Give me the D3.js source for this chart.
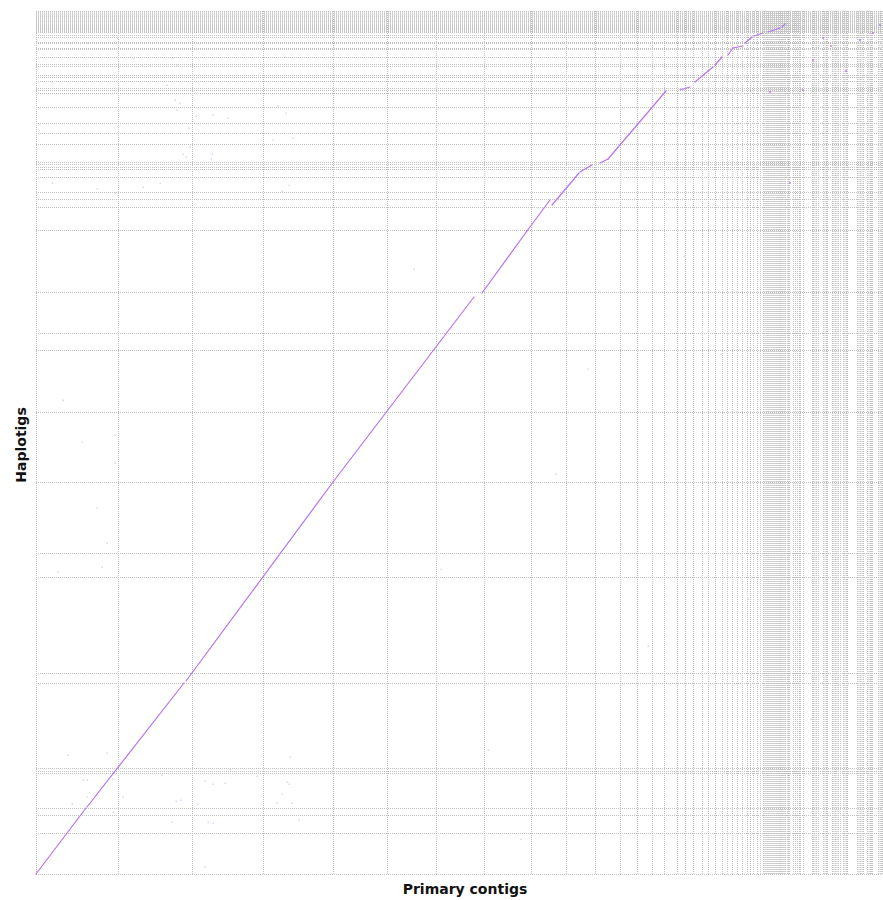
<!DOCTYPE html>
<html>
<head>
<meta charset="utf-8">
<script src="https://cdn.jsdelivr.net/npm/d3@7"></script>
<style>
  html, body { margin: 0; padding: 0; background: #fff; }
  svg { display: block; }
  .grid line { stroke: #c2c2c2; stroke-width: 1; stroke-dasharray: 1,1; }
  .grid .domain { display: none; }
  .title { font-family: "DejaVu Sans", sans-serif; font-weight: bold; font-size: 14px; fill: #111; }
</style>
</head>
<body>
<svg id="chart" width="883" height="900"></svg>
<script>
// Primary contig lengths (kb), in assembly order along the x axis
const primaryLengths = [
  8200, 7400, 7100, 7000, 5400, 4900, 4800, 4700, 3500, 2900, 2500, 1700, 1500, 1200, 1300,
  800, 800, 900, 600, 700, 700, 500, 500, 500, 500, 500, 300, 300, 400, 300, 300,
  150, 120, 100, 100, 80, 100, 120, 90, 100, 100, 80, 110, 90, 100, 100, 70, 100, 90, 120, 100, 110, 70,
  200, 100, 100, 400, 200, 200, 200, 100, 300, 900, 100, 150, 150, 200, 500, 150, 150, 100,
  500, 150, 150, 150, 150, 200, 300, 150, 150, 100, 1000, 150, 150, 150, 150, 400, 150, 150,
  100, 100, 600, 150, 150, 100
];

// Haplotig lengths (kb), in assembly order up the y axis
const haplotigLengths = [
  4100, 1800, 700, 3500, 200, 300, 8500, 1000, 9600, 2400, 7100, 7000, 6200, 1700, 4100,
  6200, 2300, 800, 700, 1500, 800, 200, 300, 200, 1800, 1100, 1000, 1600, 1400, 300,
  200, 700, 400, 200, 900, 200, 700, 800, 100, 500, 100, 500, 200, 300,
  100, 80, 120, 100, 90, 100, 110, 70, 100, 100, 130, 80, 100, 90, 100, 120, 80, 100, 110, 90, 130
];

// Alignment blocks: [primary start, haplotig start, primary end, haplotig end] (kb, cumulative)
const alignments = [
  [0, 0, 5000, 6600],
  [5100, 6700, 14800, 19100],
  [15000, 19300, 29700, 39200],
  [29700, 39200, 43800, 57700],
  [44600, 58100, 49100, 64300],
  [49100, 64300, 51400, 67400],
  [51600, 66900, 54300, 70100],
  [54400, 70200, 55600, 70900],
  [56400, 71100, 57200, 71500],
  [57200, 71500, 63000, 78300],
  [64400, 78400, 65400, 78700],
  [65900, 79200, 67700, 80700],
  [67900, 80900, 68600, 81700],
  [69200, 81900, 69700, 82600],
  [69700, 82600, 70700, 82800],
  [70900, 83100, 71600, 83700],
  [71800, 83800, 72700, 84100],
  [73200, 84200, 74400, 84600],
  [74600, 84700, 74900, 85000]
];

// Short off-diagonal hits among the small contigs: [primary, haplotig] (kb)
const minorHits = [
  [83700, 84100], [82400, 83400], [78700, 83600], [73400, 78200], [76700, 78400],
  [77700, 81400], [75400, 69100], [84400, 84900], [79500, 82800], [81000, 80300]
];

// Faint scattered matches: [primary, haplotig] (kb)
const noiseHits = [
  [3600, 83100], [5100, 83100], [8100, 83600], [9800, 81600], [10600, 80900], [11400, 80900],
  [13700, 81600], [14100, 80900], [14600, 79900], [13100, 78900], [13900, 77400], [14400, 77100],
  [14100, 76400], [16000, 75800], [17700, 75900], [19200, 75600], [15300, 74600], [15400, 72700],
  [14700, 72000], [15000, 71700], [17600, 72000], [17500, 71500], [12400, 69100], [1600, 69100],
  [6100, 68500], [10700, 68700], [7900, 68100], [24200, 76800], [25000, 76100], [25700, 73600],
  [24900, 81700], [23700, 73400], [25300, 68900], [24600, 68300], [1600, 79200],
  [3200, 11900], [7100, 12100], [4700, 9400], [5100, 9400], [7700, 9500], [5100, 7700],
  [8700, 7700], [3600, 7000], [7700, 6200], [12600, 9900], [14000, 7300], [14500, 7400],
  [13600, 5200], [16200, 7000], [16900, 9300], [17700, 9000], [18900, 9100], [19400, 10500],
  [22100, 9800], [17200, 5200], [17700, 5100], [16900, 700], [24100, 7100], [24600, 8000],
  [25100, 9200], [25300, 9000], [25400, 11700], [25600, 7100], [26300, 5400],
  [2700, 47400], [4600, 43200], [7900, 43900], [7900, 41100], [6100, 36600], [7100, 33100],
  [6600, 30700], [2200, 30200],
  [40500, 30500], [52000, 40000], [58500, 33000], [61200, 22800], [45200, 12400], [68500, 52000],
  [37800, 60500], [55200, 50500], [71200, 27500], [64800, 61800], [48500, 3500], [77500, 15500]
];

const svg = d3.select("#chart");
const plotLeft = 36, plotRight = 882, plotTop = 11, plotBottom = 874;

const x = d3.scaleLinear().domain([0, d3.sum(primaryLengths)]).range([plotLeft, plotRight]);
const y = d3.scaleLinear().domain([0, d3.sum(haplotigLengths)]).range([plotBottom, plotTop]);

// contig boundaries (cumulative)
const cumulative = arr => { let s = 0; return [0].concat(arr.map(v => (s += v))); };
const xBounds = cumulative(primaryLengths);
const yBounds = cumulative(haplotigLengths);

// Boundary grid drawn as axis ticks spanning the plot
svg.append("g")
  .attr("class", "grid")
  .attr("transform", `translate(0,${plotBottom})`)
  .call(d3.axisBottom(x).tickValues(xBounds).tickSize(-(plotBottom - plotTop)).tickFormat(""));

svg.append("g")
  .attr("class", "grid")
  .attr("transform", `translate(${plotLeft},0)`)
  .call(d3.axisLeft(y).tickValues(yBounds).tickSize(-(plotRight - plotLeft)).tickFormat(""));

// faint scattered matches
svg.append("g")
  .selectAll("rect")
  .data(noiseHits)
  .join("rect")
  .attr("x", d => x(d[0]) - 0.5)
  .attr("y", d => y(d[1]) - 0.5)
  .attr("width", 1.5)
  .attr("height", 1.5)
  .attr("fill", "#cfc8f4")
  .attr("opacity", 0.8);

// off-diagonal hits
svg.append("g")
  .selectAll("rect")
  .data(minorHits)
  .join("rect")
  .attr("x", d => x(d[0]) - 1)
  .attr("y", d => y(d[1]) - 1)
  .attr("width", 2)
  .attr("height", 2)
  .attr("fill", "#b877ee")
  .attr("opacity", 0.7);

// alignment blocks
svg.append("g")
  .selectAll("line")
  .data(alignments)
  .join("line")
  .attr("x1", d => x(d[0]))
  .attr("y1", d => y(d[1]))
  .attr("x2", d => x(d[2]))
  .attr("y2", d => y(d[3]))
  .attr("stroke", "#b673f0")
  .attr("stroke-width", 1.2)
  .attr("stroke-linecap", "round");

// axis titles
svg.append("text")
  .attr("class", "title")
  .attr("x", 465)
  .attr("y", 894)
  .attr("text-anchor", "middle")
  .text("Primary contigs");

svg.append("text")
  .attr("class", "title")
  .attr("transform", "translate(26,445) rotate(-90)")
  .attr("text-anchor", "middle")
  .text("Haplotigs");
</script>
</body>
</html>
